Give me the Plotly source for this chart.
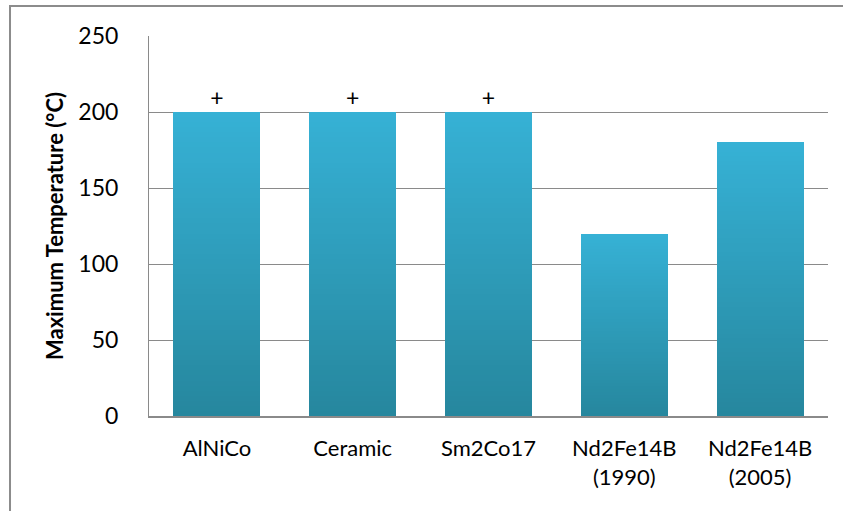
import plotly.graph_objects as go

# Magnet types and their maximum operating temperatures (°C)
categories = ["AlNiCo", "Ceramic", "Sm2Co17", "Nd2Fe14B<br>(1990)", "Nd2Fe14B<br>(2005)"]
max_temp = [200, 200, 200, 120, 180]
exceeds = ["+", "+", "+", "", ""]  # "+" marks temperatures above the plotted value
y_ticks = [0, 50, 100, 150, 200, 250]

# Vertical gradient: light cyan at the top of each bar, darker teal at its base
top_rgb = (54, 177, 213)
bottom_rgb = (38, 135, 158)
n_slices = 60

FONT = "Lato, Calibri, sans-serif"

fig = go.Figure()
for i in range(n_slices):
    t = i / (n_slices - 1)
    r, g, b = (round(bottom_rgb[k] + (top_rgb[k] - bottom_rgb[k]) * t) for k in range(3))
    fig.add_trace(go.Bar(
        x=categories,
        y=[v / n_slices for v in max_temp],
        width=0.64,
        marker=dict(color=f"rgb({r},{g},{b})", line=dict(width=0)),
        hoverinfo="skip",
        showlegend=False,
    ))

fig.add_trace(go.Scatter(
    x=categories,
    y=max_temp,
    mode="text",
    text=exceeds,
    textposition="top center",
    textfont=dict(family=FONT, size=23, color="#000000"),
    hoverinfo="skip",
    showlegend=False,
))

fig.update_layout(
    width=843,
    height=511,
    barmode="stack",
    bargap=0.36,
    plot_bgcolor="white",
    paper_bgcolor="white",
    margin=dict(l=149, r=15, t=36, b=95),
    font=dict(family=FONT, size=22, color="#000000"),
    xaxis=dict(
        showline=True,
        linecolor="#8a8a8a",
        linewidth=2,
        showgrid=False,
        ticks="",
        ticklabelstandoff=12,
        tickfont=dict(size=22),
    ),
    yaxis=dict(
        range=[0, 250],
        tickvals=y_ticks,
        showline=True,
        linecolor="#8a8a8a",
        linewidth=1,
        showgrid=True,
        gridcolor="#8a8a8a",
        gridwidth=1,
        zeroline=False,
        ticks="",
        ticklabelstandoff=25,
        tickfont=dict(size=23),
        title=dict(
            text="<b>Maximum Temperature (°C)</b>",
            font=dict(size=22),
            standoff=8,
        ),
    ),
    shapes=[
        dict(
            type="rect",
            xref="paper", yref="paper",
            x0=-0.2047, x1=1.2, y0=-0.5, y1=1.079,
            line=dict(color="#8c8c8c", width=2),
            fillcolor="rgba(0,0,0,0)",
            layer="below",
        )
    ],
)

fig.write_html("out.html")
